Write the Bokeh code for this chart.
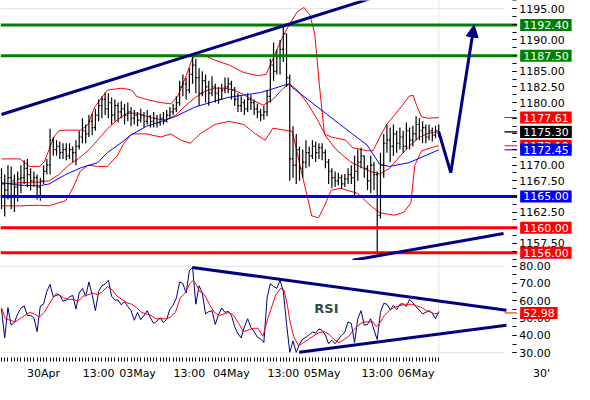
import numpy as np
from bokeh.plotting import figure
from bokeh.models import Range1d, FixedTicker, Span, Label, Arrow, NormalHead, PrintfTickFormatter
from bokeh.layouts import column
from bokeh.embed import file_html
from bokeh.resources import INLINE

# ---------------- data (30-minute bars, x = bar number) ----------------
FIRST_OPEN = 1168.0
CLOSE = [
    1167.0, 1166.0, 1168.0, 1167.5, 1166.5, 1167.8, 1168.0, 1169.5, 1168.5, 1167.5,
    1168.0, 1166.5, 1167.5, 1169.0, 1170.0, 1174.0, 1172.5, 1173.0, 1172.0, 1172.5,
    1171.5, 1172.5, 1172.0, 1173.0, 1174.5, 1175.5, 1175.0, 1177.0, 1176.0, 1178.0,
    1179.5, 1180.5, 1179.0, 1180.0, 1178.0, 1179.5, 1178.5, 1179.0, 1178.0, 1178.5,
    1177.5, 1178.0, 1177.2, 1178.0, 1177.0, 1177.8, 1177.0, 1177.5, 1176.8, 1177.5,
    1177.0, 1178.0, 1178.5, 1179.0, 1180.0, 1182.5, 1183.0, 1182.0, 1184.5, 1186.0,
    1184.0, 1181.5, 1183.5, 1182.5, 1181.5, 1182.5, 1181.5, 1180.5, 1182.0, 1182.5,
    1183.0, 1182.0, 1180.5, 1179.5, 1180.0, 1179.0, 1180.5, 1180.0, 1179.0, 1178.5,
    1178.0, 1178.5, 1181.0, 1186.0, 1185.0, 1187.5, 1188.5, 1191.0, 1184.0, 1171.0,
    1170.0, 1172.5, 1169.5, 1170.5, 1172.0, 1171.5, 1173.0, 1172.0, 1172.8, 1172.0,
    1170.5, 1169.0, 1168.0, 1167.5, 1168.0, 1167.0, 1167.8, 1168.5, 1168.0, 1169.0,
    1170.5, 1171.5, 1169.5, 1167.5, 1170.0, 1168.5, 1162.0, 1170.0, 1173.5, 1174.0,
    1173.0, 1175.0, 1173.5, 1174.5, 1173.0, 1175.5, 1174.0, 1175.0, 1176.5, 1175.5,
    1176.0, 1174.5, 1175.5, 1174.8, 1175.5, 1175.3]
HIGH = [
    1169.5, 1168.5, 1170.0, 1169.8, 1168.5, 1169.0, 1170.0, 1170.8, 1171.0, 1169.5,
    1169.0, 1168.5, 1168.0, 1170.0, 1171.0, 1175.8, 1174.5, 1174.0, 1173.8, 1173.5,
    1173.5, 1173.5, 1173.0, 1174.0, 1175.5, 1177.5, 1176.5, 1178.0, 1178.2, 1179.0,
    1180.5, 1181.0, 1181.6, 1181.5, 1180.8, 1180.5, 1180.0, 1180.2, 1179.8, 1180.0,
    1179.3, 1178.8, 1178.5, 1179.0, 1178.5, 1178.8, 1178.0, 1178.5, 1178.0, 1178.2,
    1178.5, 1178.8, 1179.3, 1179.8, 1181.0, 1183.5, 1184.5, 1184.0, 1185.5, 1187.6,
    1187.0, 1185.5, 1185.0, 1184.5, 1183.5, 1184.2, 1183.0, 1182.5, 1183.0, 1184.0,
    1184.0, 1183.5, 1182.5, 1181.5, 1181.0, 1180.5, 1181.5, 1181.2, 1180.5, 1179.8,
    1179.0, 1179.5, 1182.0, 1187.0, 1189.6, 1188.5, 1190.0, 1192.4, 1191.0, 1184.5,
    1176.2, 1175.0, 1173.0, 1172.5, 1174.0, 1173.0, 1174.0, 1173.8, 1173.5, 1173.5,
    1172.5, 1171.0, 1169.5, 1169.0, 1168.8, 1168.5, 1168.6, 1169.5, 1170.0, 1171.5,
    1172.5, 1172.8, 1171.5, 1170.0, 1171.5, 1170.5, 1169.0, 1172.0, 1175.0, 1176.5,
    1176.0, 1176.5, 1175.5, 1176.0, 1175.5, 1176.8, 1176.0, 1176.3, 1177.8, 1177.5,
    1177.0, 1176.5, 1176.5, 1176.0, 1176.3, 1176.5]
LOW = [
    1163.0, 1161.8, 1164.5, 1163.0, 1162.5, 1164.2, 1165.5, 1167.0, 1166.5, 1166.0,
    1166.5, 1164.5, 1164.3, 1167.0, 1168.5, 1168.5, 1171.5, 1171.5, 1171.0, 1171.0,
    1170.8, 1171.0, 1170.5, 1170.0, 1172.5, 1173.5, 1173.5, 1174.5, 1174.8, 1175.5,
    1177.0, 1177.5, 1178.0, 1177.5, 1176.5, 1177.0, 1176.8, 1177.5, 1176.5, 1177.0,
    1176.2, 1176.5, 1176.2, 1176.8, 1176.0, 1176.5, 1176.0, 1176.0, 1176.0, 1176.3,
    1176.5, 1176.8, 1177.5, 1178.0, 1178.5, 1179.5, 1181.0, 1180.5, 1181.5, 1183.0,
    1181.5, 1179.5, 1181.0, 1180.0, 1179.5, 1181.0, 1180.0, 1179.8, 1180.5, 1181.5,
    1181.5, 1180.5, 1179.5, 1178.5, 1178.5, 1178.0, 1178.5, 1178.8, 1178.0, 1177.5,
    1177.0, 1177.3, 1177.8, 1180.0, 1183.5, 1184.5, 1184.5, 1186.5, 1182.5, 1167.5,
    1168.0, 1167.0, 1167.5, 1168.0, 1169.5, 1169.8, 1171.0, 1170.5, 1171.0, 1170.8,
    1169.5, 1167.0, 1166.3, 1166.5, 1166.8, 1166.2, 1166.5, 1167.0, 1167.0, 1165.0,
    1167.5, 1169.5, 1168.0, 1166.0, 1165.5, 1166.0, 1156.0, 1161.5, 1168.0, 1172.0,
    1170.5, 1171.5, 1172.0, 1172.5, 1172.0, 1172.5, 1172.5, 1173.0, 1174.0, 1174.0,
    1173.5, 1173.5, 1174.0, 1173.8, 1174.3, 1174.5]

# Bollinger bands (upper / middle / lower) and moving average, sampled at bar positions
UPPER_X = [0, 5.7, 8.7, 11.7, 13.2, 14.7, 16.2, 17.7, 19.8, 24.6, 26.7, 28.8, 32.7, 37.2, 40.2,
           41.7, 44.7, 49.2, 52.3, 54.4, 56.8, 58.9, 60.7, 62.8, 65.8, 70.3, 74.8, 79.3, 81.7,
           83.8, 86.8, 88.9, 91.3, 93.4, 95.2, 96.7, 98.2, 99.7, 101.8, 106.3, 108.4, 112.9,
           114.7, 116.8, 118.9, 121.3, 123.7, 125.8, 127.0, 128.2, 129.7, 131.8, 135]
UPPER_Y = [1171.0, 1171.0, 1169.8, 1169.8, 1170.5, 1172.5, 1174.5, 1175.5, 1175.6, 1175.6,
           1176.5, 1179.3, 1182.0, 1182.3, 1182.0, 1181.0, 1180.5, 1180.0, 1179.8, 1181.0,
           1184.0, 1187.0, 1187.8, 1187.5, 1186.8, 1186.0, 1184.8, 1184.3, 1184.5, 1187.0,
           1190.5, 1192.5, 1194.5, 1195.2, 1194.0, 1191.0, 1182.5, 1175.0, 1174.5, 1174.0,
           1172.8, 1172.3, 1172.3, 1174.5, 1176.5, 1178.0, 1179.5, 1181.0, 1181.2, 1179.5,
           1177.7, 1177.5, 1177.61]
MID_X = [0, 5.7, 11.7, 14.7, 17.7, 20.7, 23.7, 26.7, 29.7, 32.7, 35.7, 38.7, 41.7, 44.7, 47.7,
         50.8, 53.8, 56.8, 59.8, 62.8, 65.8, 68.8, 71.8, 74.8, 77.8, 80.8, 83.8, 86.8, 88.9,
         91.3, 94.3, 97.3, 100.3, 103.3, 107.8, 113.8, 116.8, 119.8, 122.8, 125.8, 128.8,
         131.8, 135]
MID_Y = [1167.0, 1167.2, 1167.3, 1167.5, 1168.5, 1170.0, 1171.0, 1172.3, 1174.0, 1175.8,
         1177.2, 1178.3, 1178.3, 1177.8, 1177.4, 1177.2, 1178.0, 1179.5, 1180.8, 1181.8,
         1182.3, 1182.3, 1182.0, 1181.3, 1180.3, 1179.6, 1180.5, 1182.2, 1183.0, 1182.0,
         1180.0, 1177.5, 1174.5, 1172.5, 1170.5, 1169.0, 1168.6, 1169.5, 1171.3, 1173.0,
         1174.4, 1175.1, 1175.35]
LOWER_X = [0, 5.7, 11.7, 14.7, 17.7, 19.8, 22.2, 24.3, 26.7, 29.7, 32.7, 35.7, 37.8, 40.2,
           44.7, 49.2, 52.3, 55.3, 58.3, 61.3, 65.8, 70.3, 74.8, 78.4, 81.4, 83.8, 89.8, 92.8,
           95.8, 97.9, 99.7, 101.8, 104.8, 109.9, 113.8, 116.8, 121.3, 124.3, 126.4, 127.6,
           129.7, 132.7, 135]
LOWER_Y = [1163.5, 1163.5, 1163.6, 1163.5, 1164.0, 1164.3, 1166.5, 1169.0, 1170.0, 1169.8,
           1169.8, 1171.5, 1173.5, 1175.0, 1175.0, 1174.5, 1175.0, 1174.0, 1173.5, 1175.0,
           1176.5, 1177.0, 1176.5, 1175.0, 1174.0, 1175.9, 1175.4, 1168.5, 1161.9, 1161.6,
           1163.5, 1166.0, 1166.3, 1165.5, 1163.6, 1162.4, 1162.0, 1162.5, 1164.0, 1170.0,
           1172.3, 1172.8, 1173.1]
MA_X = [0, 5.7, 11.7, 14.7, 19.8, 24.6, 29.7, 32.7, 37.8, 39.6, 44.7, 47.7, 53.8, 59.8, 69.7,
        79.9, 83.8, 86.8, 88.9, 89.8, 98.8, 107.8, 112.9, 116.8, 119.8, 125.8, 135]
MA_Y = [1167.2, 1166.8, 1166.7, 1167.0, 1168.5, 1169.6, 1170.4, 1172.0, 1173.9, 1174.7,
        1176.2, 1176.7, 1177.8, 1179.3, 1180.8, 1181.6, 1182.2, 1182.7, 1183.0, 1182.4,
        1178.8, 1175.2, 1173.2, 1170.1, 1169.8, 1170.4, 1172.45]

# RSI (one value per bar) and its signal line
RSI = [
    55.2, 38.5, 56.1, 45.9, 47.4, 52.4, 55.8, 57.0, 51.5, 51.5,
    50.2, 42.2, 57.0, 58.0, 65.4, 69.5, 62.1, 64.1, 63.2, 59.8,
    60.4, 62.2, 63.2, 55.2, 64.5, 67.2, 62.6, 70.9, 63.5, 54.3,
    65.4, 68.7, 69.6, 71.9, 62.6, 60.4, 60.4, 57.6, 59.5, 56.7,
    54.3, 48.7, 53.3, 49.1, 51.5, 54.3, 50.0, 46.9, 48.3, 50.2,
    47.4, 49.3, 55.2, 57.6, 61.7, 70.9, 70.0, 64.5, 77.4, 79.3,
    58.0, 68.7, 64.5, 52.4, 53.7, 54.3, 46.3, 51.9, 55.8, 53.3,
    53.9, 51.5, 45.0, 40.9, 38.5, 45.0, 49.6, 44.6, 42.2, 38.9,
    38.0, 35.8, 61.7, 70.0, 68.2, 67.2, 71.9, 65.4, 46.9, 30.2,
    36.7, 30.2, 34.8, 38.0, 38.9, 40.4, 41.9, 41.3, 43.7, 42.8,
    40.2, 35.2, 37.2, 35.2, 37.6, 40.0, 41.9, 47.8, 46.9, 35.8,
    49.6, 54.3, 45.9, 46.3, 49.6, 43.1, 37.6, 53.3, 58.5, 58.0,
    54.8, 57.4, 54.8, 58.0, 58.3, 56.7, 60.8, 58.9, 56.5, 54.6,
    52.4, 53.3, 54.3, 52.8, 49.6, 53.8]
SIG_X = [0, 1.2, 2.7, 4.2, 5.7, 7.2, 8.7, 10.2, 11.7, 13.2, 14.7, 16.2, 17.7, 19.2, 20.7, 22.2,
         23.7, 25.2, 26.7, 28.2, 29.7, 31.2, 32.7, 34.2, 35.7, 37.2, 38.7, 40.2, 41.7, 43.2,
         44.7, 46.2, 47.7, 49.2, 50.7, 52.2, 53.7, 55.2, 56.7, 58.2, 59.2, 60.2, 61.2, 62.7,
         64.2, 65.7, 67.2, 68.7, 70.2, 71.7, 73.2, 74.7, 76.2, 77.7, 79.2, 80.7, 82.2, 83.7,
         84.7, 86.2, 87.2, 88.2, 89.2, 90.2, 91.7, 93.2, 94.7, 96.2, 97.7, 99.7, 101.2, 102.7,
         104.2, 105.7, 107.2, 108.7, 110.2, 111.7, 113.2, 114.7, 115.7, 116.7, 118.2, 119.7,
         121.2, 122.7, 124.7, 126.7, 128.2, 129.7, 131.2, 132.7, 133.7, 135]
SIG_Y = [56.1, 49.6, 48.7, 47.8, 49.6, 51.5, 53.3, 52.4, 50.6, 53.3, 58.0, 62.6, 63.5, 61.7,
         60.8, 60.8, 59.8, 62.6, 63.5, 64.5, 63.5, 65.4, 68.2, 66.3, 62.6, 60.8, 58.9, 58.0,
         56.1, 53.3, 52.4, 51.5, 49.6, 49.6, 49.6, 50.6, 53.3, 61.7, 64.5, 70.0, 71.9, 69.1,
         65.4, 63.5, 58.0, 53.3, 51.5, 52.4, 53.3, 51.5, 46.9, 42.2, 43.1, 44.1, 44.1, 39.5,
         49.6, 58.0, 63.5, 67.2, 66.3, 58.0, 46.9, 39.5, 33.9, 35.8, 37.6, 39.5, 41.3, 42.2,
         40.4, 37.6, 35.8, 37.6, 39.5, 43.1, 45.9, 47.8, 47.8, 47.8, 45.0, 46.9, 51.5, 54.3,
         56.1, 57.0, 58.0, 58.0, 57.0, 56.1, 54.3, 53.3, 52.4, 52.98]

# support / resistance levels
GREEN_LEVELS = [1192.40, 1187.50]
BLUE_LEVELS = [1165.00]
RED_LEVELS = [1160.00, 1156.00]

# trend lines and projection
TREND_UP_X, TREND_UP_Y = [0, 115], [1178.1, 1196.8]
TREND_LO_X, TREND_LO_Y = [108.4, 155.0], [1154.8, 1159.1]
PROJ_X, PROJ_Y = [135, 138.7, 145.9], [1175.3, 1168.8, 1192.4]
RSI_TOP_X, RSI_TOP_Y = [58.9, 155.9], [79.3, 54.5]
RSI_BOT_X, RSI_BOT_Y = [91.9, 155.9], [30.2, 45.9]

# time axis
DAY_TICKS = [13, 30, 42, 58, 71, 87, 99, 116, 128]
DAY_LABELS = ["30Apr", "13:00", "03May", "13:00", "04May", "13:00", "05May", "13:00", "06May"]
TIMEFRAME = "30'"

PRICE_MAJOR = [1157.5 + 2.5 * k for k in range(16)]
PRICE_MINOR = [1155.0 + 1.25 * k for k in range(34)]
RSI_MAJOR = [30, 40, 50, 60, 70, 80]
RSI_MINOR = [30, 35, 40, 45, 50, 55, 60, 65, 70, 75, 80]

# ---------------- styling / layout ----------------
W = 574
MAIN_H = 260
RSI_H = 124
X_AXIS_H = 27
FONT = "DejaVu Sans"
NAVY = "#000080"
GREEN = "#008000"
RED = "#ff0000"
BLUE = "#0000ff"
GRIDC = "#dbe6ec"

X_START, X_END = -0.3, 176.9     # visible bar range (incl. price-scale area)
AXIS_X = 159.2                   # where the price scale sits
GRID_END = 155.3                 # end of the light grid lines / tag connectors
TIMEFRAME_X = 166.7

n = len(CLOSE)
idx = np.arange(n)
opens = [FIRST_OPEN] + CLOSE[:-1]

x_range = Range1d(X_START, X_END)


def make_fig(height, y_range, bottom, x_axis):
    p = figure(width=W, height=height, x_range=x_range, y_range=y_range,
               output_backend="svg", toolbar_location=None,
               y_axis_location="right", x_axis_location=x_axis,
               min_border_left=0, min_border_right=0, min_border_top=0,
               min_border_bottom=bottom)
    p.outline_line_color = None
    p.grid.visible = False
    p.background_fill_color = "white"
    p.border_fill_color = "white"
    ya = p.yaxis[0]
    ya.fixed_location = AXIS_X
    ya.axis_line_color = None
    ya.major_tick_in = 5
    ya.major_tick_out = -1
    ya.minor_tick_in = 5
    ya.minor_tick_out = -1
    ya.major_tick_line_color = "black"
    ya.minor_tick_line_color = "black"
    ya.major_label_standoff = 3
    ya.major_label_text_font = FONT
    ya.major_label_text_font_size = "11px"
    ya.major_label_text_color = "black"
    ya.formatter = PrintfTickFormatter(format="%.2f")
    return p


def tag(p, y, color):
    p.add_layout(Label(x=AXIS_X, y=y, x_offset=3, text=f"{y:.2f}",
                       text_align="left", text_baseline="middle",
                       text_color="white", text_font=FONT, text_font_size="11px",
                       background_fill_color=color,
                       padding=dict(left=3, right=3, top=2, bottom=2)))


def hline(p, y, color, width, x1=AXIS_X, level="glyph"):
    p.segment(x0=[X_START], y0=[y], x1=[x1], y1=[y], color=color, line_width=width, level=level)


# ---------------- main price panel ----------------
main = make_fig(MAIN_H, Range1d(1154.77, 1196.31), 0, None)
main.yaxis[0].ticker = FixedTicker(ticks=PRICE_MAJOR, minor_ticks=PRICE_MINOR)

hline(main, 1195, GRIDC, 1, x1=GRID_END, level="underlay")
main.add_layout(Span(location=n - 1, dimension="height", line_color=GRIDC, line_width=1, level="underlay"))

main.line(UPPER_X, UPPER_Y, color=RED, line_width=1)
main.line(MID_X, MID_Y, color=RED, line_width=1)
main.line(LOWER_X, LOWER_Y, color=RED, line_width=1)
main.line(MA_X, MA_Y, color=BLUE, line_width=1)

main.segment(x0=idx, y0=LOW, x1=idx, y1=HIGH, color="black", line_width=1.2)
main.segment(x0=idx - 0.4, y0=opens, x1=idx, y1=opens, color="black", line_width=1.2)
main.segment(x0=idx, y0=CLOSE, x1=idx + 0.4, y1=CLOSE, color="black", line_width=1.2)

for lv in GREEN_LEVELS:
    hline(main, lv, GREEN, 3)
for lv in BLUE_LEVELS:
    hline(main, lv, BLUE, 3)
for lv in RED_LEVELS:
    hline(main, lv, RED, 3)

main.line(TREND_UP_X, TREND_UP_Y, color=NAVY, line_width=3)
main.line(TREND_LO_X, TREND_LO_Y, color=NAVY, line_width=3)
main.line(PROJ_X[:2], PROJ_Y[:2], color=NAVY, line_width=3)
main.add_layout(Arrow(end=NormalHead(size=12, fill_color=NAVY, line_color=NAVY),
                      x_start=PROJ_X[1], y_start=PROJ_Y[1], x_end=PROJ_X[2], y_end=PROJ_Y[2],
                      line_color=NAVY, line_width=3))

# connectors from the chart edge to the value tags of the indicators
ind = [(MID_Y[-1], RED), (LOWER_Y[-1], RED), (CLOSE[-1], "black"), (MA_Y[-1], BLUE), (UPPER_Y[-1], RED)]
for v, c in ind:
    main.segment(x0=[GRID_END], y0=[v], x1=[AXIS_X], y1=[v], color=c, line_width=1)

for lv in GREEN_LEVELS:
    tag(main, lv, GREEN)
for lv in BLUE_LEVELS:
    tag(main, lv, BLUE)
for lv in RED_LEVELS:
    tag(main, lv, RED)
for v, c in ind:
    tag(main, v, c)

# ---------------- RSI panel ----------------
rsi = make_fig(RSI_H, Range1d(27.2, 83.3), X_AXIS_H, "below")
rsi.yaxis[0].ticker = FixedTicker(ticks=RSI_MAJOR, minor_ticks=RSI_MINOR)
xa = rsi.xaxis[0]
xa.ticker = FixedTicker(ticks=DAY_TICKS + [TIMEFRAME_X], minor_ticks=list(range(n)))
overrides = {t: s for t, s in zip(DAY_TICKS, DAY_LABELS)}
overrides[TIMEFRAME_X] = TIMEFRAME
xa.major_label_overrides = overrides
xa.axis_line_color = None
xa.major_tick_line_color = None
xa.minor_tick_in = 0
xa.minor_tick_out = 4
xa.minor_tick_line_color = "black"
xa.major_tick_out = 4
xa.major_tick_in = 0
xa.major_label_standoff = 5
xa.major_label_text_font = FONT
xa.major_label_text_font_size = "11px"
xa.major_label_text_color = "black"

for lv in [80, 30]:
    hline(rsi, lv, GRIDC, 1, x1=GRID_END, level="underlay")
rsi.add_layout(Span(location=n - 1, dimension="height", line_color=GRIDC, line_width=1, level="underlay"))

rsi.line(idx, RSI, color=NAVY, line_width=1)
rsi.line(SIG_X, SIG_Y, color=RED, line_width=1)
rsi.line(RSI_TOP_X, RSI_TOP_Y, color=NAVY, line_width=3)
rsi.line(RSI_BOT_X, RSI_BOT_Y, color=NAVY, line_width=3)

rsi.add_layout(Label(x=100.3, y=55.6, text="RSI", text_align="center", text_baseline="middle",
                     text_font=FONT, text_font_size="13px", text_font_style="bold",
                     text_color="#2f4f4f"))
rsi.segment(x0=[GRID_END], y0=[SIG_Y[-1]], x1=[AXIS_X], y1=[SIG_Y[-1]], color=RED, line_width=1)
tag(rsi, SIG_Y[-1], RED)

layout = column(main, rsi, spacing=0)
open("out.html", "w").write(file_html(layout, INLINE))
